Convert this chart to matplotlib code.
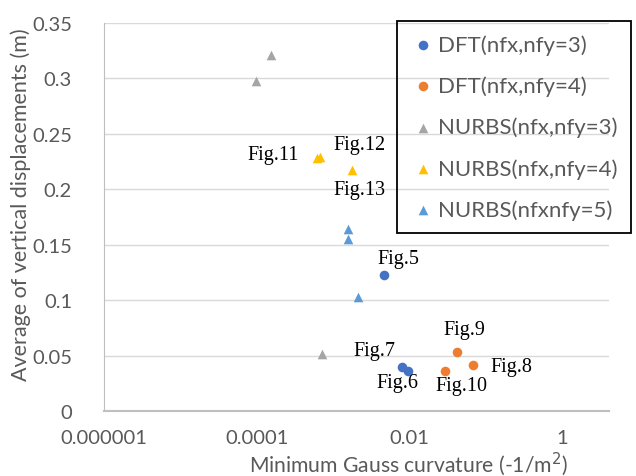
import matplotlib

matplotlib.use('Agg')
import matplotlib.pyplot as plt
from matplotlib.ticker import FixedLocator, FixedFormatter

# data
dft3_x = [4.68e-3, 7.98e-3, 9.55e-3]
dft3_y = [0.1227, 0.0398, 0.0362]
dft4_x = [0.042, 0.069, 0.0297]
dft4_y = [0.053, 0.0416, 0.0362]
nurbs3_x = [1.53e-4, 9.7e-5, 7.3e-4]
nurbs3_y = [0.321, 0.298, 0.051]
nurbs4_x = [6.2e-4, 6.7e-4, 1.76e-3]
nurbs4_y = [0.228, 0.229, 0.217]
nurbs5_x = [1.56e-3, 1.58e-3, 2.11e-3]
nurbs5_y = [0.164, 0.155, 0.103]

series_names = ['DFT(nfx,nfy=3)', 'DFT(nfx,nfy=4)', 'NURBS(nfx,nfy=3)',
                'NURBS(nfx,nfy=4)', 'NURBS(nfxnfy=5)']

fig_labels = ['Fig.5', 'Fig.7', 'Fig.6', 'Fig.9', 'Fig.8', 'Fig.10',
              'Fig.11', 'Fig.12', 'Fig.13']
fig_label_x = [dft3_x[0], dft3_x[1], dft3_x[2], dft4_x[0], dft4_x[1], dft4_x[2],
               nurbs4_x[1], nurbs4_x[2], nurbs5_x[0]]
fig_label_y = [dft3_y[0], dft3_y[1], dft3_y[2], dft4_y[0], dft4_y[1], dft4_y[2],
               nurbs4_y[1], nurbs4_y[2], nurbs5_y[0]]

x_ticks = [1e-6, 1e-4, 1e-2, 1]
x_tick_labels = ['0.000001', '0.0001', '0.01', '1']
y_ticks = [0, 0.05, 0.1, 0.15, 0.2, 0.25, 0.3, 0.35]
y_tick_labels = ['0', '0.05', '0.1', '0.15', '0.2', '0.25', '0.3', '0.35']

# label offsets in pixels (layout only)
label_offsets = [(14, 16), (-27, 16), (-10, -12), (8, 23), (38, -2), (16, -15),
                 (-46, 3), (8, 26), (12, 40)]

plt.rcParams['font.family'] = ['Lato', 'DejaVu Sans']
TXT = '#595959'

fig = plt.figure(figsize=(6.36, 4.77), dpi=100)
ax = fig.add_axes([104 / 636, 1 - 412 / 477, 505 / 636, 388 / 477])

ms = 48
ax.scatter(dft3_x, dft3_y, s=ms, marker='o', color='#4472C4', label=series_names[0], zorder=3, linewidths=0)
ax.scatter(dft4_x, dft4_y, s=ms, marker='o', color='#ED7D31', label=series_names[1], zorder=3, linewidths=0)
ax.scatter(nurbs3_x, nurbs3_y, s=ms, marker='^', color='#A5A5A5', label=series_names[2], zorder=3, linewidths=0)
ax.scatter(nurbs4_x, nurbs4_y, s=ms, marker='^', color='#FFC000', label=series_names[3], zorder=3, linewidths=0)
ax.scatter(nurbs5_x, nurbs5_y, s=ms, marker='^', color='#5B9BD5', label=series_names[4], zorder=3, linewidths=0)

for lab, x, y, off in zip(fig_labels, fig_label_x, fig_label_y, label_offsets):
    ax.annotate(lab, (x, y), xytext=off, textcoords='offset pixels',
                ha='center', va='center', fontsize=14.5,
                family=['Liberation Serif', 'DejaVu Serif'], color='black')

ax.set_xscale('log')
ax.set_xlim(1e-6, 10 ** 0.62)
ax.set_ylim(0, 0.35)
ax.xaxis.set_major_locator(FixedLocator(x_ticks))
ax.xaxis.set_major_formatter(FixedFormatter(x_tick_labels))
ax.xaxis.set_minor_locator(FixedLocator([]))
ax.set_yticks(y_ticks)
ax.set_yticklabels(y_tick_labels)
ax.tick_params(axis='both', length=0, labelsize=14.5, colors=TXT)
ax.tick_params(axis='y', pad=23)
ax.tick_params(axis='x', pad=13)
for t in ax.get_yticklabels():
    t.set_horizontalalignment('right')

ax.grid(True, axis='y', color='#d9d9d9', lw=1)
ax.set_axisbelow(True)
for s in ['top', 'right']:
    ax.spines[s].set_visible(False)
ax.spines['left'].set_color('#bfbfbf')
ax.spines['bottom'].set_color('#bfbfbf')
ax.spines['bottom'].set_linewidth(1.5)

ax.set_xlabel('Minimum Gauss curvature (-1/m$^2$)', fontsize=15.2, color=TXT)
ax.xaxis.set_label_coords(0.602, -0.098)
ax.set_ylabel('Average of vertical displacements (m)', fontsize=15.5, color=TXT)
ax.yaxis.set_label_coords(-0.145, 0.535)

leg = ax.legend(loc='upper left', bbox_to_anchor=(397 / 636, 1 - 22 / 477),
                bbox_transform=fig.transFigure, borderaxespad=0, fontsize=16,
                frameon=True, fancybox=False, framealpha=1, handletextpad=0.15,
                labelspacing=0.93, borderpad=0.6, handlelength=1.1, scatterpoints=1)
leg.get_frame().set_facecolor('none')
leg.get_frame().set_edgecolor('black')
leg.get_frame().set_linewidth(1.3)
for t in leg.get_texts():
    t.set_color(TXT)

fig.savefig('out.png', dpi=100)
